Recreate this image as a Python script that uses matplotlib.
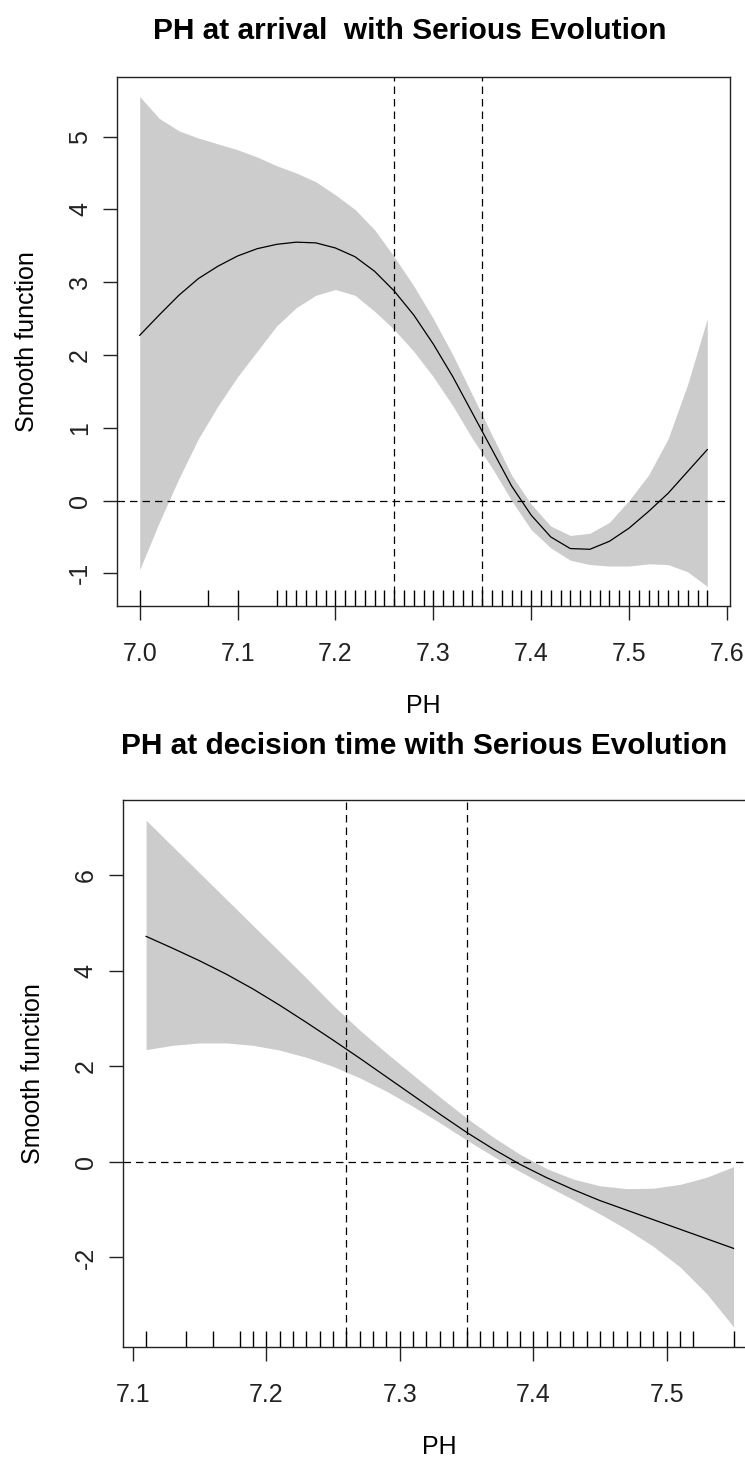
import numpy as np
import matplotlib
matplotlib.use("Agg")
from matplotlib import pyplot as plt

plt.rcParams['font.family'] = ['Liberation Sans', 'DejaVu Sans']

# ---- panel 1: PH at arrival ----
arr_x = [7.00, 7.02, 7.04, 7.06, 7.08, 7.10, 7.12, 7.14, 7.16, 7.18,
         7.20, 7.22, 7.24, 7.26, 7.28, 7.30, 7.32, 7.34, 7.36, 7.38,
         7.40, 7.42, 7.44, 7.46, 7.48, 7.50, 7.52, 7.54, 7.56, 7.58]
arr_fit = [2.27, 2.55, 2.82, 3.05, 3.22, 3.36, 3.46, 3.52, 3.55, 3.54,
           3.47, 3.35, 3.15, 2.88, 2.55, 2.15, 1.70, 1.20, 0.70, 0.20,
           -0.20, -0.50, -0.66, -0.67, -0.56, -0.38, -0.15, 0.10, 0.40, 0.70]
arr_upper = [5.55, 5.25, 5.08, 4.98, 4.90, 4.82, 4.72, 4.60, 4.50, 4.38,
             4.20, 4.00, 3.72, 3.35, 2.95, 2.50, 2.00, 1.45, 0.90, 0.35,
             -0.05, -0.35, -0.48, -0.45, -0.30, 0.00, 0.35, 0.85, 1.60, 2.50]
arr_lower = [-0.95, -0.30, 0.30, 0.85, 1.30, 1.70, 2.05, 2.40, 2.65, 2.82,
             2.90, 2.82, 2.60, 2.35, 2.05, 1.70, 1.30, 0.85, 0.45, 0.00,
             -0.40, -0.65, -0.82, -0.88, -0.90, -0.90, -0.87, -0.88, -0.98, -1.18]
arr_rug = [7.00, 7.07, 7.10] + [round(7.14 + 0.01 * i, 2) for i in range(45)]
arr_xticks = [7.0, 7.1, 7.2, 7.3, 7.4, 7.5, 7.6]
arr_yticks = [-1, 0, 1, 2, 3, 4, 5]

# ---- panel 2: PH at decision time ----
dec_x = [7.11, 7.13, 7.15, 7.17, 7.19, 7.21, 7.23, 7.25, 7.27, 7.29,
         7.31, 7.33, 7.35, 7.37, 7.39, 7.41, 7.43, 7.45, 7.47, 7.49,
         7.51, 7.53, 7.55]
dec_fit = [4.72, 4.47, 4.21, 3.93, 3.62, 3.28, 2.92, 2.55, 2.17, 1.78,
           1.39, 1.00, 0.62, 0.27, -0.05, -0.33, -0.58, -0.81, -1.01, -1.21,
           -1.41, -1.61, -1.81]
dec_upper = [7.15, 6.60, 6.05, 5.50, 4.95, 4.40, 3.85, 3.28, 2.76, 2.28,
             1.82, 1.36, 0.92, 0.52, 0.16, -0.14, -0.36, -0.50, -0.56, -0.55,
             -0.47, -0.32, -0.10]
dec_lower = [2.35, 2.44, 2.49, 2.49, 2.44, 2.34, 2.19, 2.00, 1.76, 1.48,
             1.16, 0.82, 0.46, 0.12, -0.20, -0.50, -0.79, -1.09, -1.41, -1.77,
             -2.20, -2.76, -3.45]
dec_rug = [7.11, 7.14, 7.16, 7.18] + [round(7.19 + 0.01 * i, 2) for i in range(34)] + [7.55]
dec_xticks = [7.1, 7.2, 7.3, 7.4, 7.5]
dec_yticks = [-2, 0, 2, 4, 6]

cutoffs = [7.26, 7.35]

W, H = 745, 1460
fig = plt.figure(figsize=(W / 100, H / 100), dpi=100)

def px_axes(left, top, right, bottom):
    return fig.add_axes([left / W, 1 - bottom / H, (right - left) / W, (bottom - top) / H])

def r_range(lo, hi):
    d = (hi - lo) * 0.04
    return lo - d, hi + d

def smooth_panel(ax, x, fit, upper, lower, rug, xticks, yticks, title, title_xy):
    ax.fill_between(x, lower, upper, color='#cccccc', linewidth=0, zorder=1)
    ax.plot(x, fit, color='black', linewidth=0.9, zorder=3)
    ax.axhline(0, color='black', linewidth=0.9, linestyle=(0, (6, 4)), zorder=2)
    for c in cutoffs:
        ax.axvline(c, color='black', linewidth=0.9, linestyle=(0, (6, 4)), zorder=2)
    # rug marks inside the box
    ax.vlines(rug, 0, 0.03, transform=ax.get_xaxis_transform(), color='black', linewidth=1.0)

    ax.set_xlim(*r_range(min(x), max(x)))
    ax.set_ylim(*r_range(min(lower), max(upper)))
    ax.set_xticks(xticks)
    ax.set_xticklabels(['%.1f' % v for v in xticks])
    ax.set_yticks(yticks)
    ax.set_yticklabels([str(v) for v in yticks], rotation=90, va='center')
    ax.tick_params(direction='out', length=10, width=1.0, labelsize=18, colors='#222222')
    ax.tick_params(axis='x', pad=16)
    ax.tick_params(axis='y', pad=8)
    for s in ax.spines.values():
        s.set_linewidth(1.0)
        s.set_color('#222222')

    hpx = ax.get_position().height * H
    fig.text(title_xy[0] / W, 1 - title_xy[1] / H, title, ha='center', va='center',
             fontsize=21.5, fontweight='bold')
    ax.text(0.5, -100 / hpx, 'PH', transform=ax.transAxes, ha='center', va='center', fontsize=18)
    ax.text(-90 / (ax.get_position().width * W), 0.5, 'Smooth function', transform=ax.transAxes,
            ha='center', va='center', rotation=90, fontsize=18)

ax1 = px_axes(117, 77, 730, 606)
smooth_panel(ax1, arr_x, arr_fit, arr_upper, arr_lower, arr_rug, arr_xticks, arr_yticks,
             'PH at arrival  with Serious Evolution', (410, 31))

ax2 = px_axes(122.6, 800, 757, 1347)
smooth_panel(ax2, dec_x, dec_fit, dec_upper, dec_lower, dec_rug, dec_xticks, dec_yticks,
             'PH at decision time with Serious Evolution', (424, 746))

fig.savefig('out.png', dpi=100)
